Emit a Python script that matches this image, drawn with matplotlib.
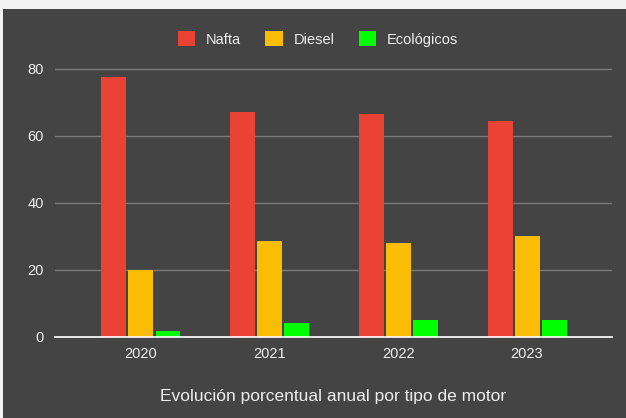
import matplotlib
matplotlib.use('Agg')
import matplotlib.pyplot as plt
from matplotlib.patches import Patch
import numpy as np

plt.rcParams['font.family'] = ['Liberation Sans', 'DejaVu Sans']

years = ['2020', '2021', '2022', '2023']
series = ['Nafta', 'Diesel', 'Ecológicos']
nafta = [77.5, 67.2, 66.6, 64.3]
diesel = [20.0, 28.7, 28.1, 30.0]
ecologicos = [1.8, 4.2, 5.1, 5.1]
colors = ['#EA4335', '#FBBC04', '#00FF00']

BG = '#444444'
TXT = '#EEEEEE'

W, H = 626, 418
fig = plt.figure(figsize=(W / 100, H / 100), dpi=100)
fig.patch.set_facecolor('#F2F2F2')

# dark panel behind everything
bg = fig.add_axes([3 / W, 0, 1 - 3 / W, 1 - 9 / H], zorder=-1)
bg.set_facecolor(BG)
bg.set_xticks([])
bg.set_yticks([])
for s in bg.spines.values():
    s.set_visible(False)

ax = fig.add_axes([55 / W, 1 - 337 / H, (612 - 55) / W, (337 - 62) / H])
ax.patch.set_alpha(0)

x = np.arange(len(years))
w = 0.194
step = 0.21
for i, (vals, col, name) in enumerate(zip([nafta, diesel, ecologicos], colors, series)):
    ax.bar(x + (i - 1) * step, vals, w, color=col, label=name, zorder=3)

ax.set_xlim(-0.668, 3.66)
ax.set_ylim(0, 82)
ax.set_yticks([0, 20, 40, 60, 80])
ax.set_xticks(x)
ax.set_xticklabels(years)
ax.grid(axis='y', color='#7A7A7A', linewidth=1, zorder=1)
ax.grid(axis='x', visible=False)
for s in ['top', 'right', 'left']:
    ax.spines[s].set_visible(False)
ax.spines['bottom'].set_color('#F5F5F5')
ax.spines['bottom'].set_linewidth(1.3)
ax.spines['bottom'].set_zorder(4)
ax.tick_params(axis='both', length=0, colors=TXT, labelsize=10.5)
ax.tick_params(axis='y', pad=8)
ax.tick_params(axis='x', pad=7)

handles = [Patch(facecolor=c, edgecolor='none', label=n) for c, n in zip(colors, series)]
leg = fig.legend(handles=handles, loc='center', bbox_to_anchor=(318 / W, 1 - 39 / H),
                 ncol=3, frameon=False, fontsize=10.5, handlelength=1.2, handleheight=1.2,
                 handletextpad=0.75, columnspacing=1.65)
for t in leg.get_texts():
    t.set_color(TXT)

fig.text(333 / W, 1 - 396 / H, 'Evolución porcentual anual por tipo de motor',
         ha='center', va='center', color=TXT, fontsize=12.5)

fig.savefig('out.png', dpi=100, facecolor=fig.get_facecolor())
